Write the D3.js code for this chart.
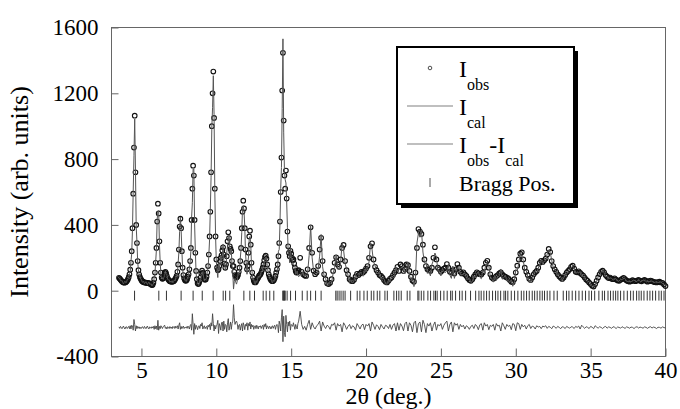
<!DOCTYPE html>
<html>
<head>
<meta charset="utf-8">
<script src="https://cdn.jsdelivr.net/npm/d3@7"></script>
<style>
  body { margin: 0; background: #fff; }
  svg { display: block; font-family: "Liberation Serif", "Times New Roman", serif; }
</style>
</head>
<body>
<svg id="xrd_graph"></svg>
<script>
// scan: 3.50–15.50 deg at 0.05 step, then 15.6–40.0 deg at 0.1 step
const lowStart = 3.5, lowStep = 0.05;
const highStart = 15.6, highStep = 0.1;

const obsLow = [
  78, 74, 68, 62, 57, 53, 51, 49, 50, 52,
  56, 62, 70, 82, 100, 128, 170, 240, 380, 590, 870, 1064, 720, 400, 290, 180, 125, 98, 82, 72,
  64, 58, 55, 52, 50, 50, 49, 48, 47, 46, 45, 44, 42, 38, 34, 36, 48, 70, 110, 170,
  260, 420, 529, 470, 300, 170, 110, 80, 72, 75, 90, 108, 115, 105, 88, 75, 68, 62, 58, 56,
  55, 55, 56, 58, 62, 70, 78, 90, 115, 160, 250, 390, 438, 380, 240, 140, 95, 75, 65, 60,
  62, 70, 85, 100, 130, 180, 260, 430, 620, 760, 700, 430, 230, 120, 70, 45, 40, 48, 62, 80,
  105, 122, 108, 88, 72, 66, 70, 85, 110, 150, 220, 330, 480, 720, 1000, 1200, 1332, 1050, 620, 330,
  190, 140, 125, 130, 150, 180, 200, 215, 245, 264, 220, 165, 140, 160, 210, 300, 355, 320, 270, 255,
  240, 180, 150, 150, 115, 95, 85, 80, 85, 95, 115, 140, 180, 260, 380, 480, 547, 500, 380, 250,
  170, 130, 150, 230, 330, 365, 280, 170, 110, 80, 62, 52, 50, 55, 65, 72, 80, 90, 95, 100,
  110, 125, 140, 160, 185, 205, 213, 195, 160, 125, 100, 85, 72, 65, 60, 58, 60, 65, 75, 90,
  110, 130, 160, 210, 290, 420, 600, 809, 1217, 1446, 1034, 700, 620, 730, 560, 360, 270, 230, 210, 243,
  225, 200, 185, 190, 165, 140, 120, 110, 112, 120, 125
];
const obsHigh = [
  200, 115, 100, 92, 90, 130, 260, 385, 230, 122,
  100, 110, 150, 250, 322, 180, 100, 70, 45, 40,
  48, 70, 120, 170, 203, 160, 145, 190, 260, 278,
  180, 125, 100, 70, 60, 58, 66, 85, 103, 95,
  105, 115, 110, 120, 135, 150, 200, 270, 288, 190,
  145, 125, 110, 95, 90, 80, 65, 55, 50, 60,
  72, 80, 95, 110, 125, 145, 120, 160, 150, 120,
  130, 160, 155, 120, 85, 62, 55, 110, 260, 375,
  360, 345, 280, 190, 150, 130, 125, 120, 140, 200,
  264, 190, 140, 130, 115, 125, 135, 140, 162, 140,
  115, 110, 125, 105, 130, 162, 140, 115, 105, 112,
  100, 90, 75, 65, 60, 70, 85, 100, 112, 105,
  100, 98, 110, 140, 170, 182, 140, 100, 80, 72,
  78, 88, 95, 105, 112, 100, 90, 85, 80, 75,
  65, 55, 52, 70, 110, 152, 190, 225, 233, 190,
  140, 115, 95, 72, 65, 80, 100, 112, 120, 140,
  170, 182, 175, 185, 195, 220, 254, 235, 180, 150,
  130, 115, 100, 88, 78, 71, 80, 95, 110, 120,
  130, 145, 152, 135, 115, 112, 118, 108, 100, 92,
  80, 68, 60, 50, 40, 30, 25, 40, 60, 81,
  100, 115, 122, 112, 95, 85, 77, 80, 72, 70,
  75, 68, 62, 60, 66, 72, 78, 70, 62, 58,
  55, 58, 64, 60, 58, 62, 66, 60, 57, 62,
  66, 60, 55, 58, 62, 58, 54, 52, 50, 52,
  55, 50, 48, 38, 28
];

// Iobs - Ical (drawn shifted down)
const diffLow = [
  5, -4, 8, 2, -6, 3, 10, -2, -8, 4,
  6, -5, 2, 8, -6, 12, -8, 15, 10, -15, 50, 20, -20, 12, -6, 8, -3, 5, -6, 2,
  -4, 6, 3, -5, 8, 2, -6, 4, 10, -3, -8, 5, 2, -4, 6, -2, 8, -10, 12, -6,
  10, -12, 45, -15, 8, -6, 12, 4, -5, 6, 10, 15, -4, 3, -8, 6, 2, -5, 7, -3,
  4, -6, 8, 2, -4, 10, -3, 5, 12, -8, 15, 30, -10, 8, -6, 4, 10, -5, 3, -2,
  6, -4, 10, 5, -8, 12, 20, -15, 85, 20, -40, 25, -10, 15, 5, -12, 8, 12, -5, 20,
  10, 30, -8, 5, 12, -6, 4, 8, -10, 15, 5, 20, -12, 30, 10, 85, 25, -20, 15, -8,
  12, 20, 45, -35, 25, 10, -15, 30, 35, -20, 40, -10, 20, 15, -25, 30, 55, -15, 10, 35,
  -10, 25, 40, 140, 60, 20, 35, 40, 25, -10, 15, 20, -15, 10, 25, -20, 30, 15, -12, 20,
  10, 30, -15, 25, 10, 35, -8, 20, 5, 15, -10, 8, 12, -6, 15, 5, -8, 10, 4, 12,
  -5, 8, 15, -10, 20, 6, 25, -8, 12, 5, -6, 10, 4, -8, 6, 12, -4, 8, 15, -10,
  10, 20, 15, -30, 40, 20, -20, 60, 110, -85, 70, -30, -55, 75, 20, -25, 35, 10, 40, -15,
  20, 15, 8, 30, 10, -10, 20, 6, -8, 25, 40
];
const diffHigh = [
  100, 20, -10, 8, -15, 20, 45, -10, 30, 5,
  -8, 12, 20, 40, -20, 35, 10, -5, 15, 8,
  -10, 20, 15, 30, -15, 25, 10, 20, -25, 30,
  15, -10, 8, 20, -6, 12, 5, -15, 25, 10,
  -8, 15, 22, -12, 20, 10, 25, -20, 35, 15,
  -10, 18, 8, -12, 20, 5, -8, 15, 10, -5,
  20, -10, 15, 25, -20, 30, -15, 25, 10, -18,
  25, 35, -20, 30, 15, -25, 30, 40, -30, 25,
  35, -25, 45, 20, -30, 25, 10, 30, -20, 15,
  35, -15, 20, 10, 25, -10, 15, 30, 40, -20,
  20, 35, -25, 30, 15, 25, -10, 20, 5, 15,
  -8, 12, 5, -10, 8, 15, -5, 20, 10, -12,
  18, 25, -15, 30, 10, 20, -12, 15, 8, 20,
  -15, 25, 10, 15, -20, 30, 12, -10, 20, 8,
  15, -12, 25, 20, -18, 30, 25, -10, 20, 5,
  15, -8, 12, 20, -5, 10, 6, -8, 12, 4,
  8, -6, 10, 5, 12, -4, 8, 3, -6, 10,
  5, -4, 8, 2, -6, 6, 3, -5, 8, 2,
  -3, 6, 4, -5, 8, 2, 10, -8, 15, 5,
  -4, 6, 2, -5, 8, 3, -6, 12, 4, -3,
  6, 2, -5, 4, 8, -3, 5, 2, -4, 6,
  3, -5, 4, 2, -3, 6, 1, -4, 5, 2,
  -3, 4, 2, -5, 3, 6, -2, 4, 1, -3,
  5, 2, -4, 3, 6, -2, 4, 1, -5, 3,
  2, -3, 5, 1, -2
];

// Bragg reflection positions (2θ)
const braggPos = [
  4.54, 6.16, 6.67, 7.65, 8.45, 9.06, 9.79, 10.46, 10.62, 10.90, 11.84, 12.24, 12.55,
  13.13, 13.33, 13.57, 13.84, 14.44, 14.48, 14.52, 14.56, 14.60, 14.73, 14.96, 15.29,
  15.74, 16.07, 16.30, 16.63, 17.00, 17.98, 18.07, 18.20, 18.33, 18.47, 18.60, 18.97,
  19.41, 19.59, 19.86, 20.08, 20.35, 20.52, 20.75, 20.92, 21.26, 21.42, 21.86, 22.04,
  22.19, 22.35, 22.75, 22.93, 23.46, 23.53, 23.69, 23.86, 24.13, 24.31, 24.53, 24.64,
  24.75, 24.98, 25.20, 25.42, 25.65, 25.76, 25.98, 26.25, 26.42, 26.65, 26.98, 27.32,
  27.54, 27.69, 27.87, 28.05, 28.23, 28.45, 28.65, 28.81, 28.99, 29.21, 29.32, 29.47,
  29.70, 29.92, 30.14, 30.37, 30.54, 30.72, 30.90, 31.10, 31.26, 31.43, 31.61, 31.77,
  31.92, 32.10, 32.28, 32.55, 32.77, 33.17, 33.39, 33.55, 33.77, 34.00, 34.22, 34.44,
  34.66, 34.89, 35.06, 35.27, 35.55, 35.78, 35.93, 36.16, 36.33, 36.51, 36.67, 36.82,
  37.00, 37.22, 37.45, 37.67, 37.85, 38.07, 38.23, 38.38, 38.56, 38.78, 38.96, 39.14,
  39.34, 39.56, 39.72, 39.90
];

const xTicks = [5, 10, 15, 20, 25, 30, 35, 40];
const yTicks = [-400, 0, 400, 800, 1200, 1600];

const diffOffset = -225;              // where the difference curve sits
const braggTop = 0, braggBottom = -60; // extent of the Bragg markers

// ---------------------------------------------------------------
const svg_width = 680, svg_height = 409;
const margin = { top: 27, right: 15, bottom: 53, left: 111 },
    width = svg_width - margin.left - margin.right,
    height = svg_height - margin.top - margin.bottom;

const root = d3.select("#xrd_graph")
    .attr("width", svg_width)
    .attr("height", svg_height);

const svg = root.append("g")
    .attr("transform", `translate(${margin.left + 0.5},${margin.top + 0.5})`);

const x = d3.scaleLinear().domain([3, 40]).range([0, width]);
const y = d3.scaleLinear().domain([-400, 1600]).range([height, 0]);

// build the profile table
const profile = [];
obsLow.forEach((v, i) => profile.push({ t: lowStart + i * lowStep, obs: v, diff: diffLow[i] }));
obsHigh.forEach((v, i) => profile.push({ t: highStart + i * highStep, obs: v, diff: diffHigh[i] }));
profile.forEach(d => { d.cal = d.obs - d.diff; });

// frame
svg.append("rect")
    .attr("width", width)
    .attr("height", height)
    .attr("fill", "none")
    .attr("stroke", "#666")
    .attr("stroke-width", 1);

// axes (ticks pointing inward), plain hyphen for negatives
const xAxis = svg.append("g")
    .attr("transform", `translate(0,${height})`)
    .call(d3.axisBottom(x).tickValues(xTicks).tickSize(-8).tickPadding(5).tickFormat(d => String(d)));
const yAxis = svg.append("g")
    .call(d3.axisLeft(y).tickValues(yTicks).tickSize(-7).tickPadding(13).tickFormat(d => String(d)));

[xAxis, yAxis].forEach(a => {
    a.attr("font-family", null).attr("font-size", 23);
    a.select(".domain").remove();
    a.selectAll(".tick line").attr("stroke", "#666");
    a.selectAll(".tick text").attr("fill", "#000");
});

svg.append("text")
    .attr("x", width / 2)
    .attr("y", height + 47)
    .attr("text-anchor", "middle")
    .attr("font-size", 24)
    .text("2θ (deg.)");

svg.append("text")
    .attr("transform", "rotate(-90)")
    .attr("x", -height / 2)
    .attr("y", -84)
    .attr("text-anchor", "middle")
    .attr("font-size", 26)
    .text("Intensity (arb. units)");

// Bragg positions
svg.append("g")
    .selectAll("line")
    .data(braggPos)
    .enter()
    .append("line")
    .attr("x1", d => x(d))
    .attr("x2", d => x(d))
    .attr("y1", y(braggTop))
    .attr("y2", y(braggBottom))
    .attr("stroke", "#333")
    .attr("stroke-width", 1);

// difference curve
const diffLine = d3.line()
    .x(d => x(d.t))
    .y(d => y(diffOffset + d.diff));

svg.append("path")
    .datum(profile)
    .attr("fill", "none")
    .attr("stroke", "#444")
    .attr("stroke-width", 0.9)
    .attr("d", diffLine);

// observed points
svg.append("g")
    .selectAll("circle")
    .data(profile)
    .enter()
    .append("circle")
    .attr("cx", d => x(d.t))
    .attr("cy", d => y(d.obs))
    .attr("r", 2.3)
    .attr("fill", "none")
    .attr("stroke", "#111")
    .attr("stroke-width", 1.1);

// calculated profile
const calLine = d3.line()
    .x(d => x(d.t))
    .y(d => y(d.cal));

svg.append("path")
    .datum(profile)
    .attr("fill", "none")
    .attr("stroke", "#555")
    .attr("stroke-width", 1)
    .attr("d", calLine);

// legend box with drop shadow
const legend = root.append("g");
legend.append("rect")
    .attr("x", 401).attr("y", 51)
    .attr("width", 177).attr("height", 157)
    .attr("fill", "#000");
legend.append("rect")
    .attr("x", 397).attr("y", 47)
    .attr("width", 177).attr("height", 157)
    .attr("fill", "#fff")
    .attr("stroke", "#000")
    .attr("stroke-width", 2);

function subLabel(xPos, yPos, parts) {
    const t = legend.append("text")
        .attr("x", xPos)
        .attr("y", yPos)
        .attr("font-size", 24);
    let down = false;
    parts.forEach(([s, sub]) => {
        const ts = t.append("tspan").text(s);
        if (sub && !down) { ts.attr("dy", 13).attr("font-size", 16); down = true; }
        else if (sub) { ts.attr("font-size", 16); }
        else if (down) { ts.attr("dy", -13); down = false; }
    });
}

legend.append("circle")
    .attr("cx", 430).attr("cy", 68).attr("r", 1.8)
    .attr("fill", "none").attr("stroke", "#222").attr("stroke-width", 0.8);
subLabel(459, 77, [["I", false], ["obs", true]]);

legend.append("line")
    .attr("x1", 407).attr("x2", 453).attr("y1", 106).attr("y2", 106)
    .attr("stroke", "#aaa").attr("stroke-width", 1.5);
subLabel(459, 115, [["I", false], ["cal", true]]);

legend.append("line")
    .attr("x1", 407).attr("x2", 453).attr("y1", 144).attr("y2", 144)
    .attr("stroke", "#aaa").attr("stroke-width", 1.5);
subLabel(459, 153, [["I", false], ["obs", true], ["-I", false], ["cal", true]]);

legend.append("line")
    .attr("x1", 430).attr("x2", 430).attr("y1", 178).attr("y2", 187)
    .attr("stroke", "#555").attr("stroke-width", 1);
legend.append("text")
    .attr("x", 459).attr("y", 191)
    .attr("font-size", 22)
    .text("Bragg Pos.");
</script>
</body>
</html>
